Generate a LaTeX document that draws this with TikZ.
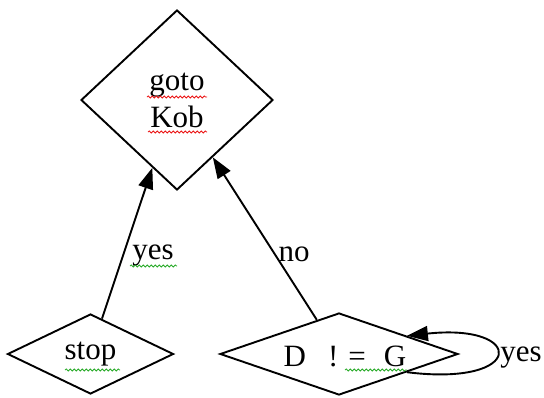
\documentclass[tikz,border=0pt]{standalone}
\usepackage{fontspec}
\setmainfont{Liberation Serif}
\usetikzlibrary{shapes.geometric,arrows.meta,decorations.pathmorphing}
\definecolor{spellred}{RGB}{235,20,20}
\definecolor{spellgreen}{RGB}{40,170,40}
\begin{document}
\begin{tikzpicture}[x=1pt,y=-1pt,
  txt/.style={font=\fontsize{31}{37}\selectfont},
  dnode/.style={diamond,draw,line width=1.9pt,inner sep=0pt,txt},
  flow/.style={line width=1.9pt,-{Triangle[length=21pt,width=15pt]}},
  lbl/.style={inner sep=0pt,txt},
  squig/.style={decorate,decoration={snake,segment length=4pt,amplitude=1pt},line width=0.8pt}]
\useasboundingbox (0,0) rectangle (544,397);

% decision nodes
\node[dnode,aspect=1,minimum width=192pt,minimum height=180pt,align=center] (goto) at (177,100) {goto\\Kob};
\node[dnode,aspect=2,minimum width=166pt,minimum height=80pt] (stop) at (90.5,354) {stop};
\node[dnode,aspect=2.9,minimum width=238pt,minimum height=82pt] (cmp) at (339,354) {};
\node[lbl] (cmptext) at (345,356) {D\hspace{22pt}!\hspace{10pt}=\hspace{18pt}G};

% connectors
\draw[flow] (stop.72) -- (goto.250);
\draw[flow] (cmp.123) -- (goto.302);
\draw[flow] (cmp.-15) .. controls (526,387) and (526,323) .. (cmp.15);

% edge labels
\node[lbl] (lyes) at (153,256) {yes};
\node[lbl] (lno) at (294,254) {no};
\node[lbl] (lloop) at (521,358) {yes};

% spell-check underlines
\draw[squig,spellred] (147,97) -- (207,97);
\draw[squig,spellred] (148,132) -- (207,132);
\draw[squig,spellgreen] (130,266) -- (177,266);
\draw[squig,spellgreen] (65,370) -- (120,370);
\draw[squig,spellgreen] (345,370) -- (407,370);
\end{tikzpicture}
\end{document}
